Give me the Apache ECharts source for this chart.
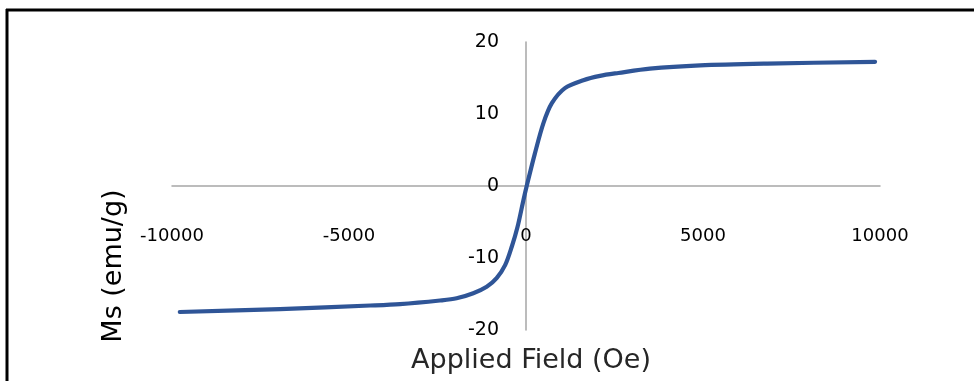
<!DOCTYPE html>
<html>
<head>
<meta charset="utf-8">
<script src="https://cdn.jsdelivr.net/npm/echarts@6/dist/echarts.min.js"></script>
<style>
html,body{margin:0;padding:0;background:#fff;}
#chart{width:974px;height:381px;}
</style>
</head>
<body>
<div id="chart"></div>
<script>
var fieldOe = [-9780, -6950, -4400, -3560, -2430, -1960, -1490, -1110, -830, -590, -400, -240, -70, 20, 250, 490, 730, 1100, 1620, 2090, 2610, 3500, 4920, 6810, 9860];
var msEmu   = [-17.5, -17.1, -16.6, -16.4, -15.9, -15.6, -14.9, -14.0, -12.8, -11.0, -8.4, -5.7, -1.9, 0, 4.5, 8.7, 11.5, 13.6, 14.7, 15.3, 15.7, 16.3, 16.75, 17.0, 17.25];
var xTicks = {min: -10000, max: 10000, step: 5000};
var yTicks = {min: -20, max: 20, step: 10};
var xTitle = 'Applied Field (Oe)';
var yTitle = 'Ms (emu/g)';

var pts = fieldOe.map(function (x, i) { return [x, msEmu[i]]; });
var font = 'DejaVu Sans';
var gridLeft = 172, gridTop = 42, gridW = 708, gridH = 288;
var chart = echarts.init(document.getElementById('chart'), null, {renderer: 'canvas'});
chart.setOption({
  animation: false,
  backgroundColor: '#ffffff',
  grid: {left: gridLeft, top: gridTop, width: gridW, height: gridH, outerBoundsMode: 'none', containLabel: false},
  xAxis: {
    type: 'value', min: xTicks.min, max: xTicks.max, interval: xTicks.step,
    position: 'bottom',
    offset: -gridH * (0 - yTicks.min) / (yTicks.max - yTicks.min),
    axisLine: {show: true, onZero: false, lineStyle: {color: '#a6a6a6', width: 1.5}},
    axisTick: {show: false},
    splitLine: {show: false},
    axisLabel: {color: '#000', fontFamily: font, fontSize: 18, margin: 41, formatter: function (v) { return String(v); }}
  },
  yAxis: {
    type: 'value', min: yTicks.min, max: yTicks.max, interval: yTicks.step,
    position: 'left',
    offset: -gridW * (0 - xTicks.min) / (xTicks.max - xTicks.min),
    axisLine: {show: true, onZero: false, lineStyle: {color: '#a6a6a6', width: 1.5}},
    axisTick: {show: false},
    splitLine: {show: false},
    axisLabel: {color: '#000', fontFamily: font, fontSize: 19, margin: 27, padding: [6, 0, 0, 0], formatter: function (v) { return String(v); }}
  },
  series: [{
    type: 'line', data: pts, smooth: 0.3, showSymbol: false,
    lineStyle: {color: '#2f5597', width: 4.2, cap: 'round', join: 'round'}
  }],
  graphic: [
    {type: 'line', shape: {x1: 6, y1: 10, x2: 974, y2: 10}, style: {stroke: '#000', lineWidth: 3}},
    {type: 'line', shape: {x1: 7, y1: 9, x2: 7, y2: 381}, style: {stroke: '#000', lineWidth: 3}},
    {type: 'text', x: 531, y: 361, style: {text: xTitle, font: '27px "DejaVu Sans"', fill: '#262626', textAlign: 'center', textVerticalAlign: 'middle'}},
    {type: 'text', x: 114, y: 266, rotation: Math.PI / 2, style: {text: yTitle, font: '27px "DejaVu Sans"', fill: '#000', textAlign: 'center', textVerticalAlign: 'middle'}}
  ]
});
</script>
</body>
</html>
